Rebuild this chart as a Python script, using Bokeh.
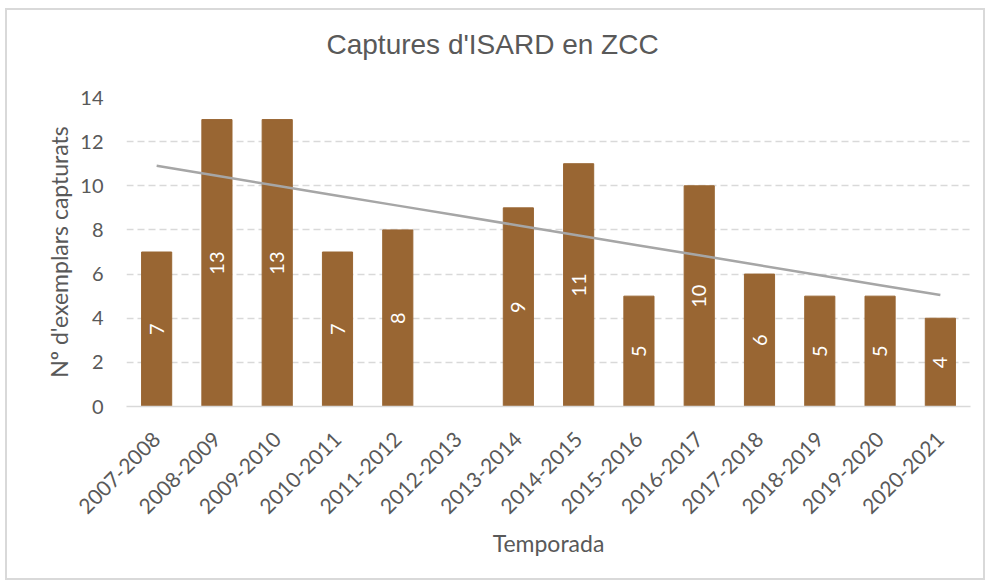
import numpy as np
from bokeh.plotting import figure
from bokeh.layouts import column
from bokeh.models import ColumnDataSource, FixedTicker, Range1d, FactorRange, Title
from bokeh.embed import file_html
from bokeh.resources import INLINE

seasons = ["2007-2008", "2008-2009", "2009-2010", "2010-2011", "2011-2012", "2012-2013",
           "2013-2014", "2014-2015", "2015-2016", "2016-2017", "2017-2018", "2018-2019",
           "2019-2020", "2020-2021"]
captures = [7, 13, 13, 7, 8, None, 9, 11, 5, 10, 6, 5, 5, 4]
y_ticks = [0, 2, 4, 6, 8, 10, 12, 14]

TXT = "#595959"
BAR = "#996633"

# only seasons with data get a bar / label
bx = [s for s, v in zip(seasons, captures) if v is not None]
by = [v for v in captures if v is not None]
src = ColumnDataSource(dict(x=bx, top=by, mid=[v / 2 for v in by], lab=[str(v) for v in by]))

# linear trend line (Excel style), fitted on seasons with data
idx = np.array([i + 1 for i, v in enumerate(captures) if v is not None], dtype=float)
vals = np.array(by, dtype=float)
slope, intercept = np.polyfit(idx, vals, 1)
trend_y = [intercept + slope * (i + 1) for i in range(len(seasons))]

p = figure(x_range=FactorRange(*seasons, range_padding=0, factor_padding=0),
           y_range=Range1d(0, 14),
           width=976, height=568, output_backend="svg", toolbar_location=None,
           min_border_left=119, min_border_right=13, min_border_top=87, min_border_bottom=172)
p.outline_line_color = None

# spacer (closest to the frame), then the real title above it
p.add_layout(Title(text=" ", text_font_size="1px", standoff=30), "above")
p.add_layout(Title(text="Captures d'ISARD en ZCC", align="left", offset=200,
                   text_font="Liberation Sans", text_font_size="28px",
                   text_font_style="normal", text_color=TXT,
                   standoff=10, vertical_align="bottom"), "above")

p.vbar(x="x", top="top", width=0.5, source=src, fill_color=BAR, line_color=BAR)
p.line(seasons, trend_y, line_color="#a6a6a6", line_width=2.5)
p.text(x="x", y="mid", text="lab", source=src, angle=np.pi / 2, text_color="white",
       text_font_size="20px", text_font={"value": "Lato"}, text_align="center", text_baseline="middle")

# grid
p.xgrid.grid_line_color = None
p.ygrid.grid_line_color = "#d9d9d9"
p.ygrid.grid_line_dash = "7 4"
p.ygrid.grid_line_width = 1.3
p.yaxis.ticker = FixedTicker(ticks=y_ticks)

# y axis
p.yaxis.axis_line_color = None
p.yaxis.major_tick_line_color = None
p.yaxis.minor_tick_line_color = None
p.yaxis.major_label_text_font = "Lato"
p.yaxis.major_label_text_font_size = "20px"
p.yaxis.major_label_text_color = TXT
p.yaxis.major_label_standoff = 17
p.yaxis.axis_label = "Nº d'exemplars capturats"
p.yaxis.axis_label_text_font = "Lato"
p.yaxis.axis_label_text_font_size = "23px"
p.yaxis.axis_label_text_font_style = "normal"
p.yaxis.axis_label_text_color = TXT
p.yaxis.axis_label_standoff = 4

# x axis
p.xaxis.axis_line_color = "#d9d9d9"
p.xaxis.axis_line_width = 1.5
p.xaxis.major_tick_line_color = None
p.xaxis.minor_tick_line_color = None
p.xaxis.major_label_orientation = np.pi / 4
p.xaxis.major_label_text_font = "Lato"
p.xaxis.major_label_text_font_size = "21px"
p.xaxis.major_label_text_color = TXT
p.xaxis.major_label_standoff = 23
p.xaxis.axis_label = "Temporada"
p.xaxis.axis_label_text_font = "Lato"
p.xaxis.axis_label_text_font_size = "23px"
p.xaxis.axis_label_text_font_style = "normal"
p.xaxis.axis_label_text_color = TXT
p.xaxis.axis_label_standoff = 5

layout = column(p, margin=(8, 0, 0, 5),
                styles={"border": "2px solid #d9d9d9"})

open("out.html", "w").write(file_html(layout, INLINE))
